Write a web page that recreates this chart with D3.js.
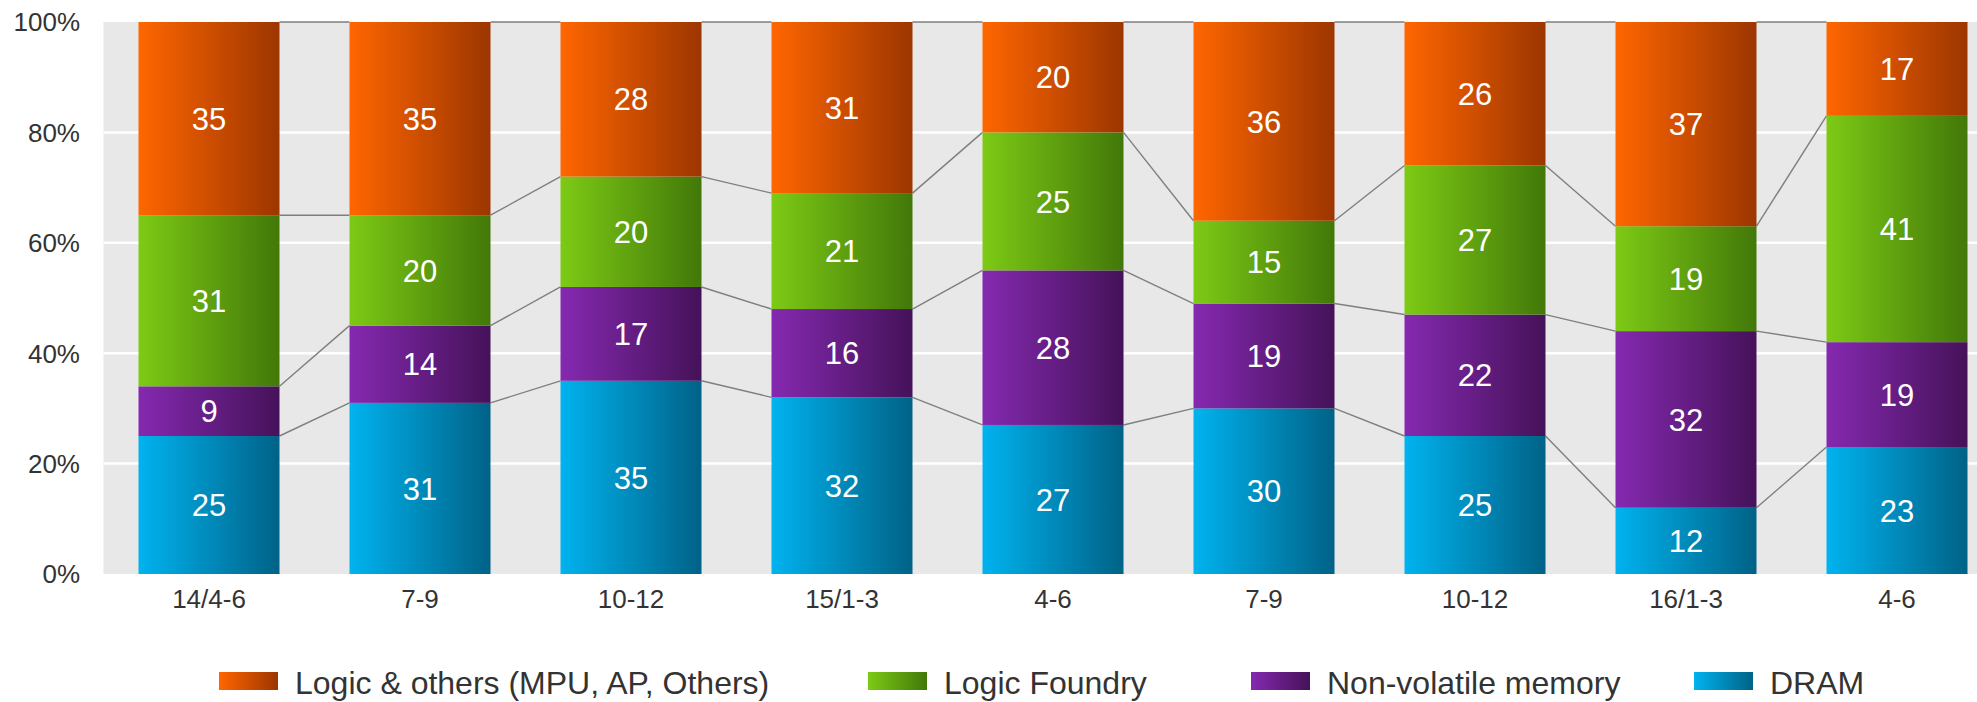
<!DOCTYPE html>
<html><head><meta charset="utf-8">
<script src="https://cdn.jsdelivr.net/npm/d3@7"></script>
<style>html,body{margin:0;padding:0;background:#fff;overflow:hidden}</style>
</head><body>
<svg id="chart" width="1977" height="702"></svg>
<script>
const categories = ["14/4-6","7-9","10-12","15/1-3","4-6","7-9","10-12","16/1-3","4-6"];
const seriesNames = ["DRAM","Non-volatile memory","Logic Foundry","Logic & others (MPU, AP, Others)"];
const dram    = [25,31,35,32,27,30,25,12,23];
const nvm     = [9,14,17,16,28,19,22,32,19];
const foundry = [31,20,20,21,25,15,27,19,41];
const logic   = [35,35,28,31,20,36,26,37,17];
const yTicks  = [0,20,40,60,80,100];
const legendOrder = [3,2,1,0];

const seriesValues = [dram, nvm, foundry, logic];
const gradStops = [
  ["#00b3ef","#006287"],
  ["#8529b0","#451259"],
  ["#7dca15","#427809"],
  ["#ff6600","#9c3600"]
];

const svg = d3.select("#chart");
const m = {left:103.5, top:22, bottom:574};
const step = 211;
const x = d3.scaleBand().domain(d3.range(categories.length))
  .range([m.left, m.left + step*categories.length]).paddingInner(70/211).paddingOuter(35/211);
const y = d3.scaleLinear().domain([0,100]).range([m.bottom, m.top]);

const defs = svg.append("defs");
gradStops.forEach((g,i)=>{
  const lg = defs.append("linearGradient").attr("id","g"+i).attr("x1","0").attr("x2","1").attr("y1","0").attr("y2","0");
  lg.append("stop").attr("offset","0").attr("stop-color",g[0]);
  lg.append("stop").attr("offset","1").attr("stop-color",g[1]);
});

// plot background
svg.append("rect").attr("x",m.left).attr("y",y(100)).attr("width",1977-m.left).attr("height",y(0)-y(100)).attr("fill","#e8e8e8");
// gridlines
svg.append("g").selectAll("line").data(yTicks.filter(t=>t>0 && t<100)).join("line")
  .attr("x1",m.left).attr("x2",1977).attr("y1",d=>y(d)).attr("y2",d=>y(d))
  .attr("stroke","#ffffff").attr("stroke-width",2.5);

// stack
const rows = categories.map((c,i)=>{const o={i}; seriesValues.forEach((s,k)=>o["s"+k]=s[i]); return o;});
const stack = d3.stack().keys(seriesValues.map((s,k)=>"s"+k))(rows);

// connector lines
const cumLevels = [];
stack.forEach(layer=>cumLevels.push(layer.map(d=>d[1])));
const lines = svg.append("g");
cumLevels.forEach(lv=>{
  for(let i=0;i<lv.length-1;i++){
    lines.append("line")
      .attr("x1",x(i)+x.bandwidth()).attr("y1",y(lv[i]))
      .attr("x2",x(i+1)).attr("y2",y(lv[i+1]))
      .attr("stroke","#7f7f7f").attr("stroke-width",1.4);
  }
});

// bars
stack.forEach((layer,k)=>{
  const g = svg.append("g");
  g.selectAll("rect").data(layer).join("rect")
    .attr("x",(d,i)=>x(i)).attr("width",x.bandwidth())
    .attr("y",d=>y(d[1])).attr("height",d=>y(d[0])-y(d[1]))
    .attr("fill","url(#g"+k+")");
  g.selectAll("text").data(layer).join("text")
    .attr("x",(d,i)=>x(i)+x.bandwidth()/2)
    .attr("y",d=>(y(d[0])+y(d[1]))/2)
    .attr("dy","0.36em").attr("text-anchor","middle")
    .attr("fill","#ffffff").attr("font-family","Liberation Sans, Arial, sans-serif").attr("font-size",31)
    .text(d=>d[1]-d[0]);
});

// y axis labels
svg.append("g").selectAll("text").data(yTicks).join("text")
  .attr("x",80).attr("y",d=>y(d)).attr("dy","0.36em").attr("text-anchor","end")
  .attr("fill","#333333").attr("font-family","Liberation Sans, Arial, sans-serif").attr("font-size",26)
  .text(d=>d+"%");

// x axis labels
svg.append("g").selectAll("text").data(categories).join("text")
  .attr("x",(d,i)=>x(i)+x.bandwidth()/2).attr("y",608).attr("text-anchor","middle")
  .attr("fill","#333333").attr("font-family","Liberation Sans, Arial, sans-serif").attr("font-size",26)
  .text(d=>d);

// legend
const legendX = [219, 868, 1251, 1694];
const lg = svg.append("g");
legendOrder.forEach((k,j)=>{
  lg.append("rect").attr("x",legendX[j]).attr("y",672).attr("width",59).attr("height",18).attr("fill","url(#g"+k+")");
  lg.append("text").attr("x",legendX[j]+76).attr("y",694)
    .attr("fill","#333333").attr("font-family","Liberation Sans, Arial, sans-serif").attr("font-size",32)
    .text(seriesNames[k]);
});
</script>
</body></html>
